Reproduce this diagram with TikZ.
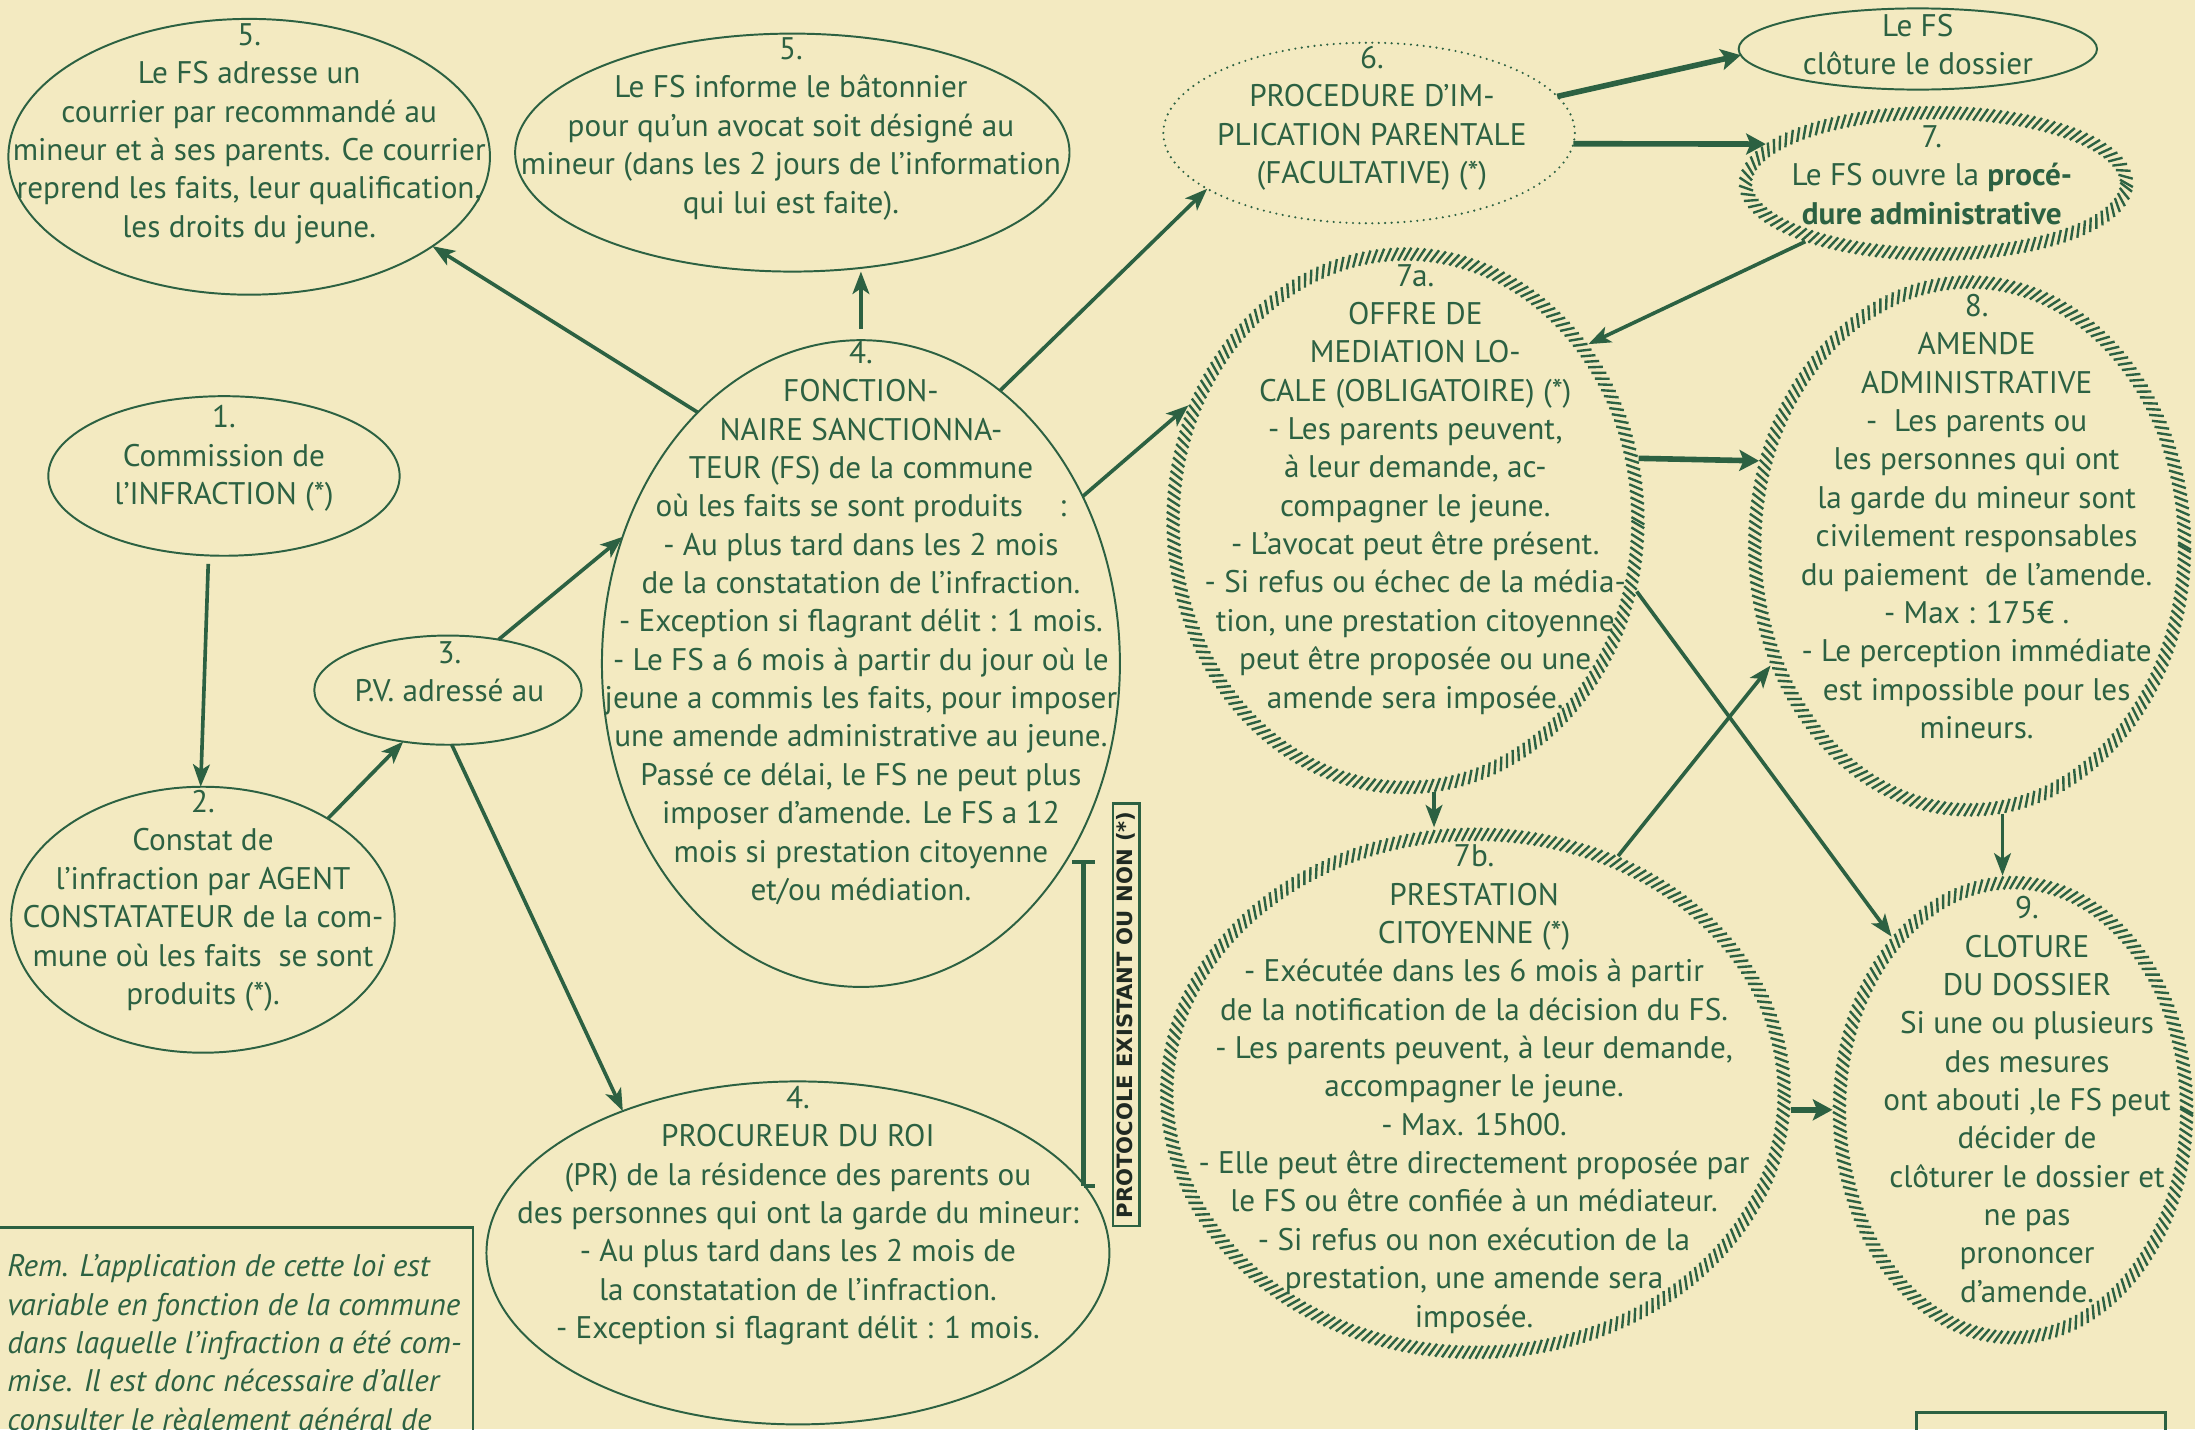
\documentclass[tikz,border=0pt]{standalone}
\usepackage{fontspec}
\setmainfont{PT Sans}
\newfontfamily\protofont{DejaVu Sans}
\usetikzlibrary{arrows.meta,decorations.markings,shapes.geometric}
\definecolor{bg}{HTML}{F3EAC1}
\definecolor{gr}{HTML}{2C6142}
\definecolor{dk}{HTML}{1F2A22}
\tikzset{
  ell/.style={ellipse,draw=gr,line width=1.4pt,inner sep=0pt,outer sep=0pt},
  hell/.style={ellipse,draw=none,inner sep=0pt,outer sep=0pt},
  dotell/.style={ellipse,draw=gr,line width=1.7pt,dash pattern=on 0pt off 4.6pt,line cap=round,inner sep=0pt,outer sep=0pt},
  hatchdeco/.style={postaction={decorate},decoration={markings,
     mark=between positions 0 and 1 step 4.8pt with {\draw[gr,line width=1.7pt] (-2.6pt,-4.6pt) -- (2.6pt,4.6pt);}}},
  txt/.style={text=gr,align=center,inner sep=0pt,font=\fontsize{22.3}{27.4}\selectfont},
  remtxt/.style={text=gr,align=left,inner sep=0pt,font=\itshape\fontsize{22.3}{27.4}\selectfont},
  arr/.style={draw=gr,line width=2.6pt,-{Stealth[length=16pt,width=12pt,inset=4pt]}},
  tarr/.style={draw=gr,line width=4pt,-{Stealth[length=14pt,width=15pt,inset=3pt]}},
  frame/.style={draw=gr,line width=1.8pt}
}
\begin{document}
\begin{tikzpicture}[x=1pt,y=-1pt]
\useasboundingbox (0,0) rectangle (1568,1021);
\fill[bg] (0,0) rectangle (1568,1021);
\clip (0,0) rectangle (1568,1021);

% ellipses
\node[ell,minimum width=344pt,minimum height=197pt] (e5a) at (178,112) {};
\node[ell,minimum width=396pt,minimum height=170pt] (e5b) at (566,109) {};
\node[dotell,minimum width=294pt,minimum height=129pt] (e6) at (978,95) {};
\node[ell,minimum width=256pt,minimum height=58pt] (ecl) at (1370,35) {};
\node[hell,minimum width=282pt,minimum height=111pt] (e7) at (1383,131) {};
\path[hatchdeco] (e7.center) ellipse [x radius=136pt,y radius=50.5pt];
\node[ell,minimum width=251pt,minimum height=114pt] (e1) at (160,340) {};
\node[ell,minimum width=274pt,minimum height=190pt] (e2) at (145,657) {};
\node[ell,minimum width=191pt,minimum height=78pt] (e3) at (320,493) {};
\node[ell,minimum width=370pt,minimum height=462pt] (e4) at (615,474) {};
\node[ell,minimum width=445pt,minimum height=245pt] (epr) at (570,895) {};
\node[hell,minimum width=342pt,minimum height=391pt] (e7a) at (1004,372) {};
\path[hatchdeco] (e7a.center) ellipse [x radius=166pt,y radius=190.5pt];
\node[hell,minimum width=317pt,minimum height=387pt] (e8) at (1407,390) {};
\path[hatchdeco] (e8.center) ellipse [x radius=153.5pt,y radius=188.5pt];
\node[hell,minimum width=451pt,minimum height=380pt] (e7b) at (1054,781) {};
\path[hatchdeco] (e7b.center) ellipse [x radius=220.5pt,y radius=185pt];
\node[hell,minimum width=258pt,minimum height=335pt] (e9) at (1438,793) {};
\path[hatchdeco] (e9.center) ellipse [x radius=124pt,y radius=162.5pt];

% texts
\node[txt] (t5a) at (178,95.5) {5.\\Le FS adresse un\\courrier par recommandé au\\mineur et à ses parents. Ce courrier\\reprend les faits, leur qualification,\\les droits du jeune.};
\node[txt] (t5b) at (565,92) {5.\\Le FS informe le bâtonnier\\pour qu’un avocat soit désigné au\\mineur (dans les 2 jours de l’information\\qui lui est faite).};
\node[txt] (t6) at (980,84.5) {6.\\PROCEDURE D’IM-\\PLICATION PARENTALE\\(FACULTATIVE) (*)};
\node[txt] (tcl) at (1370,32) {Le FS\\clôture le dossier};
\node[txt] (t7) at (1380,125) {7.\\Le FS ouvre la \textbf{procé-}\\\textbf{dure administrative}};
\node[txt] (t1) at (160,327.5) {1.\\Commission de\\l’INFRACTION (*)};
\node[txt] (t2) at (145,643.5) {2.\\Constat de\\l’infraction par AGENT\\CONSTATATEUR de la com-\\mune où les faits~ se sont\\produits (*).};
\node[txt] (t3) at (321,480) {3.\\P.V. adressé au};
\node[txt] (t4) at (615,445) {4.\\FONCTION-\\NAIRE SANCTIONNA-\\TEUR (FS) de la commune\\où les faits se sont produits\hspace{26pt}:\\- Au plus tard dans les 2 mois\\de la constatation de l’infraction.\\- Exception si flagrant délit : 1 mois.\\- Le FS a 6 mois à partir du jour où le\\jeune a commis les faits, pour imposer\\une amende administrative au jeune.\\Passé ce délai, le FS ne peut plus\\imposer d’amende. Le FS a 12\\mois si prestation citoyenne\\et/ou médiation.};
\node[txt] (tpr) at (570,868.5) {4.\\PROCUREUR DU ROI\\(PR) de la résidence des parents ou\\des personnes qui ont la garde du mineur:\\- Au plus tard dans les 2 mois de\\la constatation de l’infraction.\\- Exception si flagrant délit : 1 mois.};
\node[txt] (t7a) at (1011,349.5) {7a.\\OFFRE DE\\MEDIATION LO-\\CALE (OBLIGATOIRE) (*)\\- Les parents peuvent,\\à leur demande, ac-\\compagner le jeune.\\- L’avocat peut être présent.\\- Si refus ou échec de la média-\\tion, une prestation citoyenne\\peut être proposée ou une\\amende sera imposée.};
\node[txt] (t8) at (1412,369) {8.\\AMENDE\\ADMINISTRATIVE\\-~ Les parents ou\\les personnes qui ont\\la garde du mineur sont\\civilement responsables\\du paiement~ de l’amende.\\- Max : 175€ .\\- Le perception immédiate\\est impossible pour les\\mineurs.};
\node[txt] (t7b) at (1053,778) {7b.\\PRESTATION\\CITOYENNE (*)\\- Exécutée dans les 6 mois à partir\\de la notification de la décision du FS.\\- Les parents peuvent, à leur demande,\\accompagner le jeune.\\- Max. 15h00.\\- Elle peut être directement proposée par\\le FS ou être confiée à un médiateur.\\- Si refus ou non exécution de la\\prestation, une amende sera\\imposée.};
\node[txt] (t9) at (1448,785.5) {9.\\CLOTURE\\DU DOSSIER\\Si une ou plusieurs\\des mesures\\ont abouti ,le FS peut\\décider de\\clôturer le dossier et\\ne pas\\prononcer\\d’amende.};

% remark box
\draw[frame] (-5,877) rectangle (338,1040);
\node[remtxt,anchor=north west] (rem) at (5,896) {Rem. L’application de cette loi est\\variable en fonction de la commune\\dans laquelle l’infraction a été com-\\mise. Il est donc nécessaire d’aller\\consulter le règlement général de};
% bottom right box
\draw[frame] (1369,1009) rectangle (1547,1040);

% protocol
\node[draw=gr,line width=1.5pt,inner sep=0pt,minimum width=302pt,minimum height=19pt,rotate=90,text=dk,font=\protofont\bfseries\fontsize{15.1}{15.1}\selectfont] (proto) at (804.5,725) {PROTOCOLE EXISTANT OU NON (*)};
\coordinate (brtop) at (774,616);
\coordinate (brbot) at (774,847);
\draw[gr,line width=3pt] (brtop) -- (brbot);
\draw[gr,line width=3pt] ([xshift=-8pt]brtop) -- ([xshift=8pt]brtop);
\draw[gr,line width=3pt] (brbot) -- ([xshift=8pt]brbot);

% connectors
\draw[arr,shorten <=6pt] (e1.-101) -- (e2.91);
\draw[arr] (e2.39) -- (e3.229);
\draw[arr] (e3.45) -- (e4.152.5);
\draw[arr] (e3.-86) -- (epr.141);
\draw[arr] (e4.123) -- (e5a.-26);
\draw[arr,shorten <=8pt] (e4.north) -- (e4.north |- e5b.south);
\draw[arr] (e4.63) -- (e6.199);
\draw[arr] (e4.37) -- (e7a.152);
\draw[tarr] (e6.11) -- (ecl.182);
\draw[tarr] (e6.-3) -- (e7.167);
\draw[arr] (e7.204) -- (e7a.44);
\draw[tarr] (e7a.15) -- (e8.158);
\draw[arr] (e7a.-84) -- (e7a.-84 |- e7b.north);
\draw[arr] (e7a.-17.5) -- (e9.125);
\draw[arr] (e7b.59) -- (e8.211);
\draw[tarr] (e7b.-3.5) -- (e7b.-3.5 -| e9.west);
\draw[arr] (e8.-83) -- (e8.-83 |- e9.north);
\end{tikzpicture}
\end{document}
